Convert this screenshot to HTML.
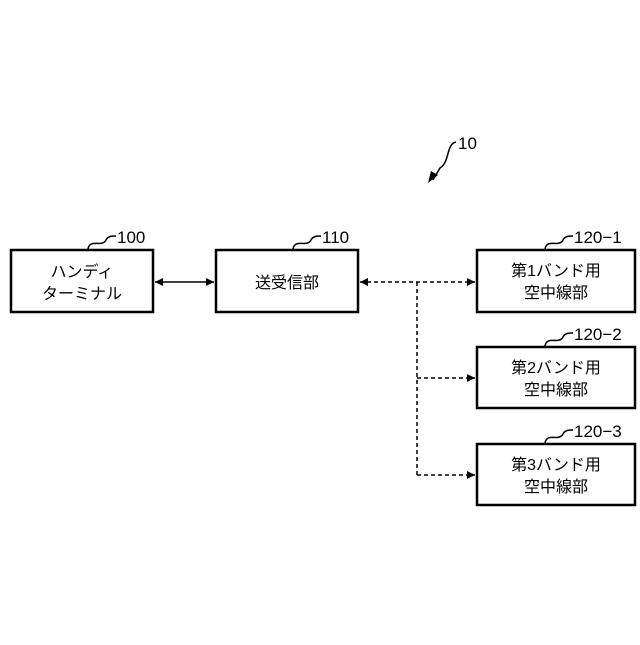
<!DOCTYPE html>
<html><head><meta charset="utf-8"><style>
body{margin:0;background:#fff;}
svg text{font-family:"Liberation Sans","Noto Sans CJK JP",sans-serif;fill:#000;}
</style></head><body>
<svg width="640" height="640" viewBox="0 0 640 640" xmlns="http://www.w3.org/2000/svg">
<defs>
<marker id="a" viewBox="0 0 10 10" refX="10" refY="5" markerWidth="10" markerHeight="8" orient="auto-start-reverse" markerUnits="userSpaceOnUse"><path d="M0,0 L10,5 L0,10 z" fill="#000"/></marker>
</defs>
<g fill="none" stroke="#000" stroke-width="2.5">
<rect x="11" y="250" width="142" height="62"/>
<rect x="216" y="250" width="142" height="62"/>
<rect x="477" y="250" width="158" height="62"/>
<rect x="477" y="347" width="158" height="61"/>
<rect x="477" y="444" width="158" height="61"/>
</g>
<g stroke="#000" stroke-width="1.5" fill="none">
<line x1="155" y1="282" x2="214" y2="282" marker-start="url(#a)" marker-end="url(#a)"/>
<g stroke-dasharray="4,3">
<line x1="360" y1="282" x2="475" y2="282" marker-start="url(#a)" marker-end="url(#a)"/>
<line x1="417" y1="282" x2="417" y2="475"/>
<line x1="417" y1="378" x2="475" y2="378" marker-end="url(#a)"/>
<line x1="417" y1="475" x2="475" y2="475" marker-end="url(#a)"/>
</g>
<path d="M88,249 C90,238 102,248 106,240 C108,236 112,236 116,236"/>
<path d="M293,249 C295,238 307,248 311,240 C313,236 317,236 321,236"/>
<path d="M545,249 C547,238 559,248 563,240 C565,236 569,236 573,236"/>
<path d="M545,346 C547,335 559,345 563,337 C565,333 569,333 573,333"/>
<path d="M545,443 C547,432 559,442 563,434 C565,430 569,430 573,430"/>
<path d="M456,142 C446,144 450,162 440,168 L433,180"/>
</g>
<path d="M428,183 L431,171 L438,175 z" fill="#000"/>
<g font-size="17">
<text x="117" y="243">100</text>
<text x="322" y="243">110</text>
<text x="574" y="243">120−1</text>
<text x="574" y="340">120−2</text>
<text x="574" y="437">120−3</text>
<text x="458" y="149">10</text>
</g>
<g font-size="16" text-anchor="middle">
<text x="82" y="277">ハンディ</text>
<text x="82" y="299">ターミナル</text>
<text x="287" y="288">送受信部</text>
<text x="556" y="276">第1バンド用</text>
<text x="556" y="298">空中線部</text>
<text x="556" y="373">第2バンド用</text>
<text x="556" y="395">空中線部</text>
<text x="556" y="470">第3バンド用</text>
<text x="556" y="492">空中線部</text>
</g>
</svg>
</body></html>
